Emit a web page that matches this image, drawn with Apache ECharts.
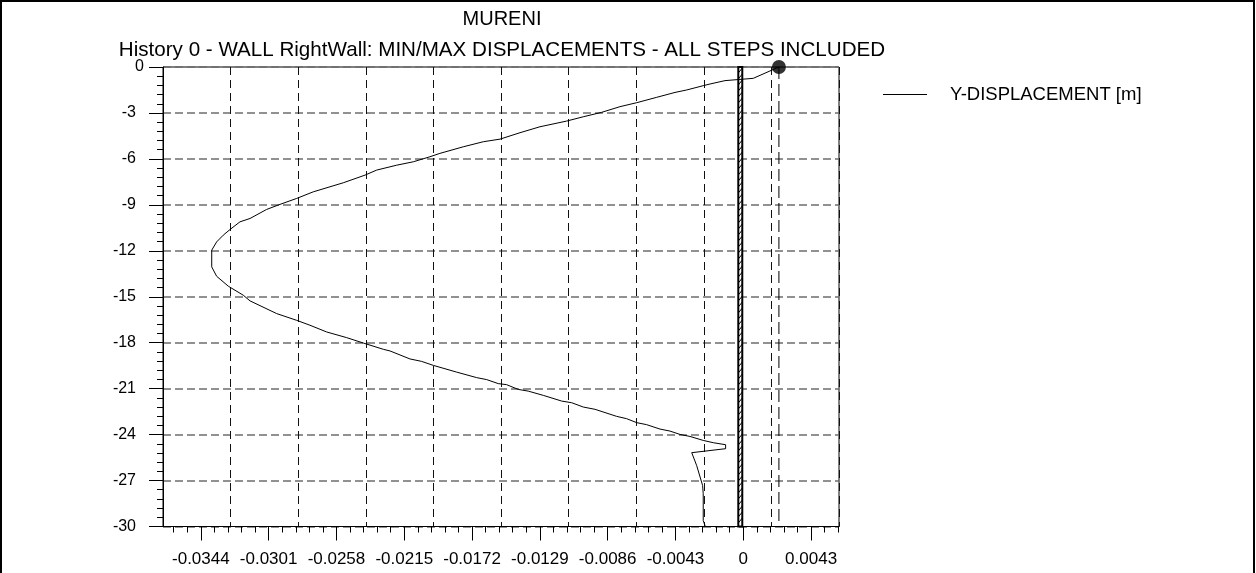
<!DOCTYPE html>
<html>
<head>
<meta charset="utf-8">
<script src="https://cdn.jsdelivr.net/npm/echarts@6/dist/echarts.min.js"></script>
<style>
  html, body { margin: 0; padding: 0; background: #fff; }
  #chart { width: 1256px; height: 573px; }
</style>
</head>
<body>
<div id="chart"></div>
<script>
// Wall RightWall: envelope of horizontal displacement along the wall depth
const DEPTH = [
  0, -0.26, -0.74, -0.89, -1.11, -1.22, -1.50, -1.66, -1.98, -2.33,
  -2.59, -2.96, -3.25, -3.53, -3.90, -4.29, -4.71, -4.88, -5.21, -5.64,
  -5.86, -6.19, -6.41, -6.73, -7.06, -7.56, -8.15, -8.58, -8.97, -9.30,
  -9.89, -10.11, -10.61, -10.98, -11.42, -11.96, -13.05, -13.66, -14.31, -14.90,
  -15.27, -16.10, -16.54, -16.86, -17.30, -17.67, -18.02, -18.43, -18.54, -19.06,
  -19.22, -19.48, -19.92, -20.28, -20.41, -20.67, -20.74, -21.05, -21.16, -21.44,
  -21.81, -21.92, -22.20, -22.35, -22.81, -22.96, -23.22, -23.35, -23.64, -23.77,
  -23.99, -24.12, -24.38, -24.53, -24.66, -24.92, -25.18, -25.29, -26.01, -27.32,
  -27.86, -29.61, -29.93, -30
];
const Y_DISPLACEMENT = [
  0.00226, 0.00169, 0.00063, -0.00116, -0.00211, -0.00254, -0.00359, -0.00433, -0.00549, -0.00676,
  -0.00782, -0.00898, -0.01015, -0.01120, -0.01289, -0.01416, -0.01543, -0.01649, -0.01776, -0.01924,
  -0.01987, -0.02093, -0.02198, -0.02325, -0.02399, -0.02537, -0.02727, -0.02832, -0.02938, -0.03023,
  -0.03128, -0.03192, -0.03255, -0.03298, -0.03340, -0.03371, -0.03371, -0.03340, -0.03266, -0.03171,
  -0.03128, -0.02959, -0.02832, -0.02748, -0.02642, -0.02515, -0.02410, -0.02283, -0.02240, -0.02114,
  -0.02040, -0.01966, -0.01818, -0.01691, -0.01627, -0.01554, -0.01501, -0.01427, -0.01364, -0.01268,
  -0.01152, -0.01088, -0.01015, -0.00940, -0.00803, -0.00740, -0.00676, -0.00613, -0.00528, -0.00465,
  -0.00401, -0.00338, -0.00254, -0.00190, -0.00112, -0.00112, -0.00327, -0.00317, -0.00296, -0.00258,
  -0.00254, -0.00254, -0.00243, -0.00243
];

// Maximum displacement reached at the wall head
const MAX_DISPLACEMENT = 0.00226;

// Wall body: faces [left, right] and depth extent [top, bottom]
const WALL_FACES = [-0.00038, 0];
const WALL_DEPTHS = [0, -30];

// Axis ranges and ticks
const X_RANGE = [-0.0368, 0.00607];
const X_TICK_VALUES = [-0.0344, -0.0301, -0.0258, -0.0215, -0.0172, -0.0129, -0.0086, -0.0043, 0, 0.0043];
const X_TICK_LABELS = ['-0.0344', '-0.0301', '-0.0258', '-0.0215', '-0.0172', '-0.0129', '-0.0086', '-0.0043', '0', '0.0043'];
const X_MINOR_PER_MAJOR = 5;
const Y_RANGE = [-30, 0];
const Y_TICK_STEP = 3;
const X_GRID_DIVISIONS = 10;

const TITLE = 'MURENI';
const SUBTITLE = 'History 0 - WALL RightWall: MIN/MAX DISPLACEMENTS - ALL STEPS INCLUDED';
const SERIES_NAME = 'Y-DISPLACEMENT [m]';

const FONT = "'Liberation Sans', Arial, Helvetica, sans-serif";

// minor tick positions along the displacement axis
const xStep = X_TICK_VALUES[1] - X_TICK_VALUES[0];
const minorStep = xStep / X_MINOR_PER_MAJOR;
const xMinorTicks = [];
for (let v = X_TICK_VALUES[0]; v >= X_RANGE[0]; v -= minorStep) xMinorTicks.push(+v.toFixed(6));
for (let v = X_TICK_VALUES[0] + minorStep; v <= X_RANGE[1]; v += minorStep) xMinorTicks.push(+v.toFixed(6));

// depth labels below the head (the head label is set apart)
const yLabelValues = [];
for (let v = Y_RANGE[1] - Y_TICK_STEP; v >= Y_RANGE[0]; v -= Y_TICK_STEP) yLabelValues.push(v);

const curve = DEPTH.map((d, i) => [Y_DISPLACEMENT[i], d]);

function tickLabel(value) {
  for (let i = 0; i < X_TICK_VALUES.length; i++) {
    if (Math.abs(X_TICK_VALUES[i] - value) < 1e-7) return X_TICK_LABELS[i];
  }
  return '';
}

// hatched wall rectangle
function renderWall(params, api) {
  const a = api.coord([api.value(0), api.value(1)]);
  const b = api.coord([api.value(2), api.value(3)]);
  const lw = 2;
  const x = Math.min(a[0], b[0]) + lw / 2;
  const y = Math.min(a[1], b[1]);
  const w = Math.abs(b[0] - a[0]) - lw;
  const h = Math.abs(b[1] - a[1]);
  const children = [{
    type: 'rect',
    shape: { x: x, y: y, width: w, height: h },
    style: { fill: '#fff', stroke: '#000', lineWidth: lw }
  }];
  for (let yy = y + 6; yy <= y + h; yy += 6) {
    children.push({
      type: 'line',
      shape: { x1: x, y1: yy, x2: x + w, y2: yy - 5 },
      style: { stroke: '#000', lineWidth: 1 }
    });
  }
  return { type: 'group', children: children };
}

const chart = echarts.init(document.getElementById('chart'), null, { renderer: 'canvas' });

chart.setOption({
  animation: false,
  backgroundColor: '#fff',
  textStyle: { fontFamily: FONT, color: '#000' },
  graphic: [{
    type: 'polyline',
    silent: true,
    shape: { points: [[1, 600], [1, 1], [1254, 1], [1254, 600]] },
    style: { stroke: '#000', lineWidth: 2, fill: null }
  }],
  title: [
    {
      text: TITLE, left: 502, top: 9, padding: 0, textAlign: 'center',
      textStyle: { fontFamily: FONT, fontSize: 20, fontWeight: 'normal', color: '#000' }
    },
    {
      text: SUBTITLE, left: 502, top: 40, padding: 0, textAlign: 'center',
      textStyle: { fontFamily: FONT, fontSize: 20.6, fontWeight: 'normal', color: '#000' }
    }
  ],
  legend: {
    data: [SERIES_NAME],
    left: 883, top: 85, padding: 0,
    icon: 'rect', itemWidth: 44, itemHeight: 1,
    textStyle: { fontFamily: FONT, fontSize: 18.5, color: '#000', padding: [0, 0, 0, 18] }
  },
  grid: {
    left: 163, top: 67, right: 417, bottom: 46.5,
    show: true, borderColor: '#000', borderWidth: 1, backgroundColor: 'transparent'
  },
  xAxis: [
    {
      type: 'value', min: X_RANGE[0], max: X_RANGE[1], position: 'bottom',
      axisLine: { show: true, onZero: false, lineStyle: { color: '#000', width: 1 } },
      axisTick: { show: true, inside: false, length: 14, customValues: X_TICK_VALUES, lineStyle: { color: '#000' } },
      axisLabel: {
        show: true, customValues: X_TICK_VALUES, margin: 24, formatter: tickLabel,
        fontFamily: FONT, fontSize: 17, color: '#000'
      },
      splitLine: { show: false }
    },
    {
      type: 'value', min: X_RANGE[0], max: X_RANGE[1], position: 'bottom',
      axisLine: { show: false, onZero: false },
      axisTick: { show: true, inside: false, length: 6, customValues: xMinorTicks, lineStyle: { color: '#000' } },
      axisLabel: { show: false },
      splitLine: { show: false }
    },
    {
      type: 'value', min: 0, max: X_GRID_DIVISIONS, interval: 1, position: 'top',
      axisLine: { show: false }, axisTick: { show: false }, axisLabel: { show: false },
      splitLine: { show: true, lineStyle: { color: '#111', width: 1, type: [8, 5] } }
    }
  ],
  yAxis: [
    {
      type: 'value', min: Y_RANGE[0], max: Y_RANGE[1], interval: Y_TICK_STEP,
      axisLine: { show: true, onZero: false, lineStyle: { color: '#000', width: 1 } },
      axisTick: { show: true, inside: false, length: 14, lineStyle: { color: '#000' } },
      minorTick: { show: true, splitNumber: 5, length: 6, lineStyle: { color: '#000' } },
      axisLabel: { customValues: yLabelValues, margin: 27, fontFamily: FONT, fontSize: 16, color: '#000' },
      splitLine: { show: true, lineStyle: { color: '#6e6e6e', width: 1.5, type: [8, 4] } }
    },
    {
      // head label sits closer to the axis
      type: 'value', min: Y_RANGE[0], max: Y_RANGE[1], position: 'left',
      axisLine: { show: false }, axisTick: { show: false }, splitLine: { show: false },
      axisLabel: { customValues: [Y_RANGE[1]], margin: 19, fontFamily: FONT, fontSize: 16, color: '#000' }
    }
  ],
  series: [
    {
      name: 'wall', type: 'custom', xAxisIndex: 0, yAxisIndex: 0,
      renderItem: renderWall, clip: false, silent: true,
      data: [[WALL_FACES[0], WALL_DEPTHS[0], WALL_FACES[1], WALL_DEPTHS[1]]],
      z: 3
    },
    {
      name: 'max', type: 'line', xAxisIndex: 0, yAxisIndex: 0, silent: true,
      data: [[MAX_DISPLACEMENT, Y_RANGE[1]], [MAX_DISPLACEMENT, Y_RANGE[0]]],
      symbol: 'none',
      lineStyle: { color: '#000', width: 1, type: [12, 5] },
      z: 3
    },
    {
      name: SERIES_NAME, type: 'line', xAxisIndex: 0, yAxisIndex: 0,
      data: curve, symbol: 'none', smooth: false,
      lineStyle: { color: '#000', width: 1 },
      itemStyle: { color: '#000' },
      z: 4
    },
    {
      name: 'max point', type: 'scatter', xAxisIndex: 0, yAxisIndex: 0, silent: true,
      data: [[MAX_DISPLACEMENT, Y_RANGE[1]]],
      symbol: 'circle', symbolSize: 14, clip: false,
      itemStyle: { color: '#000' },
      z: 5
    }
  ]
});
</script>
</body>
</html>
